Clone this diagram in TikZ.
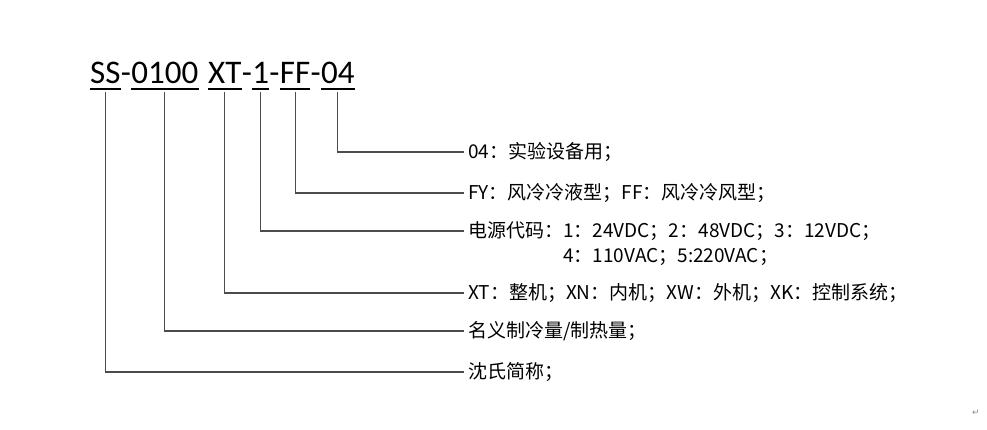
\documentclass[tikz,border=0pt]{standalone}
\usepackage{fontspec}
\setmainfont{Carlito}
\newfontfamily\cjk{Noto Sans CJK SC}
\newfontfamily\symfont{DejaVu Sans}
\tikzset{
  code/.style={inner sep=0pt, anchor=base west, font=\fontsize{33}{40}\selectfont},
  desc/.style={inner xsep=4pt, inner ysep=0pt, anchor=west, font=\cjk\fontsize{19}{23}\selectfont},
  conn/.style={draw=black!70, line width=1.1pt},
  uline/.style={line width=1.6pt},
}
\begin{document}
\begin{tikzpicture}[x=1pt,y=-1pt]
\useasboundingbox (0,0) rectangle (987,430);
% model code
\node[code] (ss) at (90,84) {SS};
\node[code] (d1) at (ss.base east) {-};
\node[code] (cap) at (d1.base east) {0100};
\node[code] (xt) at (208,84) {XT};
\node[code] (d2) at (xt.base east) {-};
\node[code] (pw) at (d2.base east) {1};
\node[code] (d3) at (pw.base east) {-};
\node[code] (ff) at (d3.base east) {FF};
\node[code] (d4) at (ff.base east) {-};
\node[code] (no) at (d4.base east) {04};
\foreach \n in {ss,cap,xt,pw,ff,no}
    \draw[uline] ([yshift=-5pt]\n.base west) -- ([yshift=-5pt]\n.base east);
% descriptions
\node[desc] (l1) at (464,152) {04：实验设备用；};
\node[desc] (l2) at (464,193) {FY：风冷冷液型；FF：风冷冷风型；};
\node[desc] (l3) at (464,231) {电源代码：1：24VDC；2：48VDC；3：12VDC；};
\node[desc,anchor=base west] (l3b) at ([yshift=-25pt]l3.base west) {\phantom{电源代码：}4：110VAC；5:220VAC；};
\node[desc] (l4) at (464,293) {XT：整机；XN：内机；XW：外机；XK：控制系统；};
\node[desc] (l5) at (464,331) {名义制冷量/制热量；};
\node[desc] (l6) at (464,372) {沈氏简称；};
% connectors
\draw[conn] ([yshift=-8pt]no.base) |- (l1.west);
\draw[conn] ([yshift=-8pt]ff.base) |- (l2.west);
\draw[conn] ([yshift=-8pt]pw.base) |- (l3.west);
\draw[conn] ([yshift=-8pt]xt.base) |- (l4.west);
\draw[conn] ([yshift=-8pt]cap.base) |- (l5.west);
\draw[conn] ([yshift=-8pt]ss.base) |- (l6.west);
\node[font=\symfont\fontsize{9}{9}\selectfont, text=black!45] (pm) at (976,413) {↵};
\end{tikzpicture}
\end{document}
